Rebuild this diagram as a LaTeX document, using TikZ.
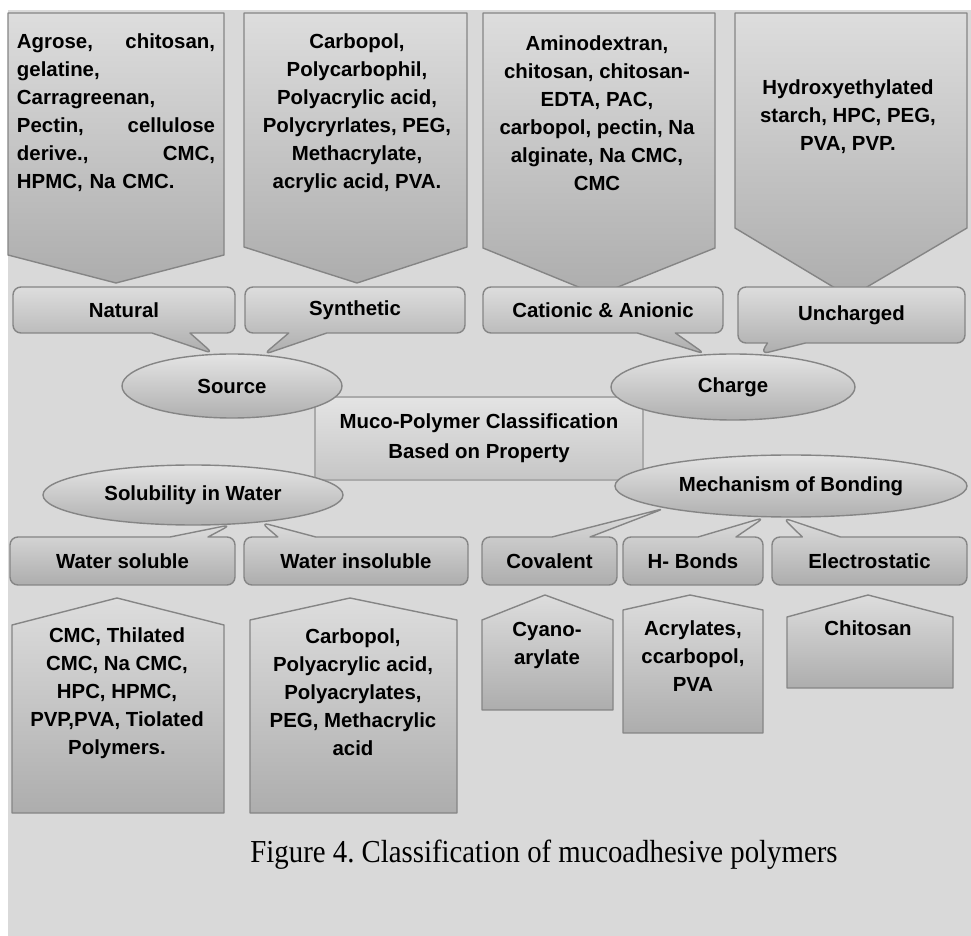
\documentclass[tikz,border=0pt]{standalone}
\usepackage{fontspec}
\usepackage{graphicx}
\setmainfont{Liberation Serif}
\newfontfamily\boxfont{Liberation Sans}
\usetikzlibrary{shapes.geometric,shapes.callouts}
\definecolor{bggray}{HTML}{D9D9D9}
\definecolor{edgegray}{HTML}{858585}
\definecolor{shadetop}{HTML}{DDDDDD}
\definecolor{shadebot}{HTML}{ADADAD}
\definecolor{ovaltop}{HTML}{E4E4E4}
\definecolor{ovalbot}{HTML}{B0B0B0}
\begin{document}
\begin{tikzpicture}[x=0.5pt, y=-0.5pt, line join=round,
  pent/.style={draw=edgegray, line width=0.7pt, top color=shadetop, bottom color=shadebot},
  listtext/.style={font=\boxfont\bfseries\fontsize{10.2}{14}\selectfont, align=center, inner sep=0pt},
  bubble/.style={rectangle callout, rounded corners=4pt, draw=edgegray, line width=0.7pt,
    top color=shadetop, bottom color=shadebot, callout pointer width=19pt, inner sep=0pt,
    minimum height=23pt, font=\boxfont\bfseries\fontsize{10.2}{14}\selectfont},
  oval/.style={ellipse, draw=edgegray, line width=0.7pt, top color=ovaltop, bottom color=ovalbot,
    inner sep=0pt, font=\boxfont\bfseries\fontsize{10.2}{14}\selectfont}]
\useasboundingbox (0,0) rectangle (971,936);
\fill[white] (0,0) rectangle (971,936);
\fill[bggray] (8,10) rectangle (971,936);
% top lists
\foreach \l/\r/\s/\m/\t in {8/224/255/116/283, 244/467/247/357/283, 483/715/248/598/295, 735/967/228/850/297}
\draw[pent] (\l,13)--(\r,13)--(\r,\s)--(\m,\t)--(\l,\s)--cycle;
\node[listtext, text width=99pt, align=left] (natlist) at (116,113)
  {Agrose,\hfill chitosan,\\ gelatine,\\ Carragreenan,\\ Pectin,\hfill cellulose\\ derive.,\hfill CMC,\\ HPMC, Na CMC.};
\node[listtext] (synlist) at (357,113)
  {Carbopol,\\ Polycarbophil,\\ Polyacrylic acid,\\ Polycryrlates, PEG,\\ Methacrylate,\\ acrylic acid, PVA.};
\node[listtext] (ionlist) at (597,113)
  {Aminodextran,\\ chitosan, chitosan-\\ EDTA, PAC,\\ carbopol, pectin, Na\\ alginate, Na CMC,\\ CMC};
\node[listtext] (unchlist) at (848,117)
  {Hydroxyethylated\\ starch, HPC, PEG,\\ PVA, PVP.};
% centre
\node[draw=edgegray!70, line width=0.6pt, top color=shadetop!80!white, bottom color=shadebot!70!white,
  minimum width=164pt, minimum height=41.5pt, align=center,
  font=\boxfont\bfseries\fontsize{10.2}{15}\selectfont] (title) at (479,438.5)
  {Muco-Polymer Classification\\ Based on Property};
\node[oval, minimum width=110pt, minimum height=32pt] (source) at (232,386) {Source};
\node[oval, minimum width=122pt, minimum height=33pt] (charge) at (733,387) {Charge};
\node[oval, minimum width=150pt, minimum height=30pt] (solub) at (193,495) {Solubility in Water};
\node[oval, minimum width=176pt, minimum height=31pt] (mech) at (791,486) {Mechanism of Bonding};
% callouts
\node[bubble, minimum width=111pt, callout absolute pointer={(source.120)}] (natural) at (124,310) {Natural};
\node[bubble, minimum width=110pt, callout absolute pointer={(source.45)}] (synth) at (355,310) {Synthetic};
\node[bubble, minimum width=120pt, callout absolute pointer={(charge.130)}] (ionic) at (603,310) {Cationic \& Anionic};
\node[bubble, minimum width=113.5pt, minimum height=28pt, callout absolute pointer={(charge.50)}] (unch) at (851.5,315) {Uncharged};
\node[bubble, minimum width=112.5pt, minimum height=24pt, callout absolute pointer={(solub.322)}] (wsol) at (122.5,561) {Water soluble};
\node[bubble, minimum width=112pt, minimum height=24pt, callout absolute pointer={(solub.338)}] (winsol) at (356,561) {Water insoluble};
\node[bubble, minimum width=67.5pt, minimum height=24pt, callout absolute pointer={(mech.190)}] (coval) at (549.5,561) {Covalent};
\node[bubble, minimum width=70pt, minimum height=24pt, callout absolute pointer={(mech.230)}] (hbond) at (693,561) {H- Bonds};
\node[bubble, minimum width=97.5pt, minimum height=24pt, callout absolute pointer={(mech.255)}] (estat) at (869.5,561) {Electrostatic};
% bottom lists
\foreach \l/\r/\s/\m/\a/\b in {12/224/625/117/598/813, 250/457/620/350/598/813, 482/613/620/545/595/710, 623/763/610/690/595/733, 787/953/617/868/595/688}
\draw[pent] (\l,\b)--(\l,\s)--(\m,\a)--(\r,\s)--(\r,\b)--cycle;
\node[listtext] (sollist) at (117,693)
  {CMC, Thilated\\ CMC, Na CMC,\\ HPC, HPMC,\\ PVP,PVA, Tiolated\\ Polymers.};
\node[listtext] (insollist) at (353,692)
  {Carbopol,\\ Polyacrylic acid,\\ Polyacrylates,\\ PEG, Methacrylic\\ acid};
\node[listtext] (covlist) at (547,645.5) {Cyano-\\ arylate};
\node[listtext] (hblist) at (693,656) {Acrylates,\\ ccarbopol,\\ PVA};
\node[listtext] (eslist) at (868,628) {Chitosan};
\node[font=\fontsize{16}{18}\selectfont] (caption) at (544,855)
  {\frenchspacing\scalebox{0.9}[1]{Figure 4. Classification of mucoadhesive polymers}};
\end{tikzpicture}
\end{document}
